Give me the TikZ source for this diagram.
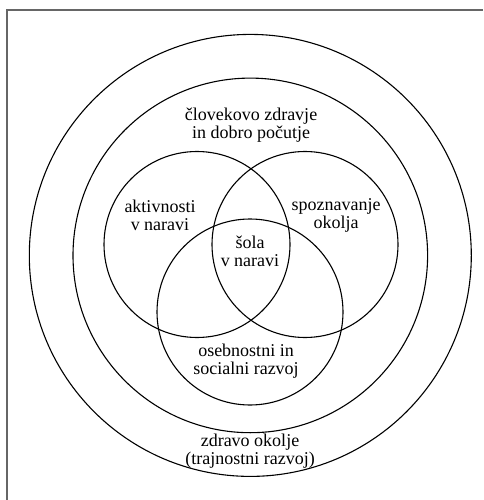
\documentclass[tikz,border=0pt]{standalone}
\usepackage{fontspec}
\setmainfont{Liberation Serif}
\begin{document}
\begin{tikzpicture}[x=1pt,y=-1pt,
  ring/.style={draw=black,line width=1.1pt},
  frameline/.style={draw=black!60,line width=1.6pt},
  lbl/.style={align=center,font=\fontsize{18}{18}\selectfont,inner sep=0pt}]
\useasboundingbox (0,0) rectangle (483,500);
\coordinate (fb) at (7,500);
\coordinate (fc) at (7,10);
\coordinate (fr) at (483,10);
\draw[frameline] (fb) -- (fc) -- (fr);
\coordinate (O) at (250.3,255.4);
\coordinate (L) at (197,244.5);
\coordinate (R) at (305,244.5);
\coordinate (B) at (250,312);
\draw[ring] (O) circle[radius=221];
\draw[ring] (O) circle[radius=177.3];
\draw[ring] (L) circle[radius=93];
\draw[ring] (R) circle[radius=93];
\draw[ring] (B) circle[radius=93];
\node[lbl] (health) at (251,125) {človekovo zdravje\\in dobro počutje};
\node[lbl] (act) at (160,215) {aktivnosti\\v naravi};
\node[lbl] (env) at (336,215) {spoznavanje\\okolja};
\node[lbl] (school) at (250,251) {šola\\v naravi};
\node[lbl] (pers) at (246,361) {osebnostni in\\socialni razvoj};
\node[lbl] (sust) at (250,451) {zdravo okolje\\(trajnostni razvoj)};
\end{tikzpicture}
\end{document}
